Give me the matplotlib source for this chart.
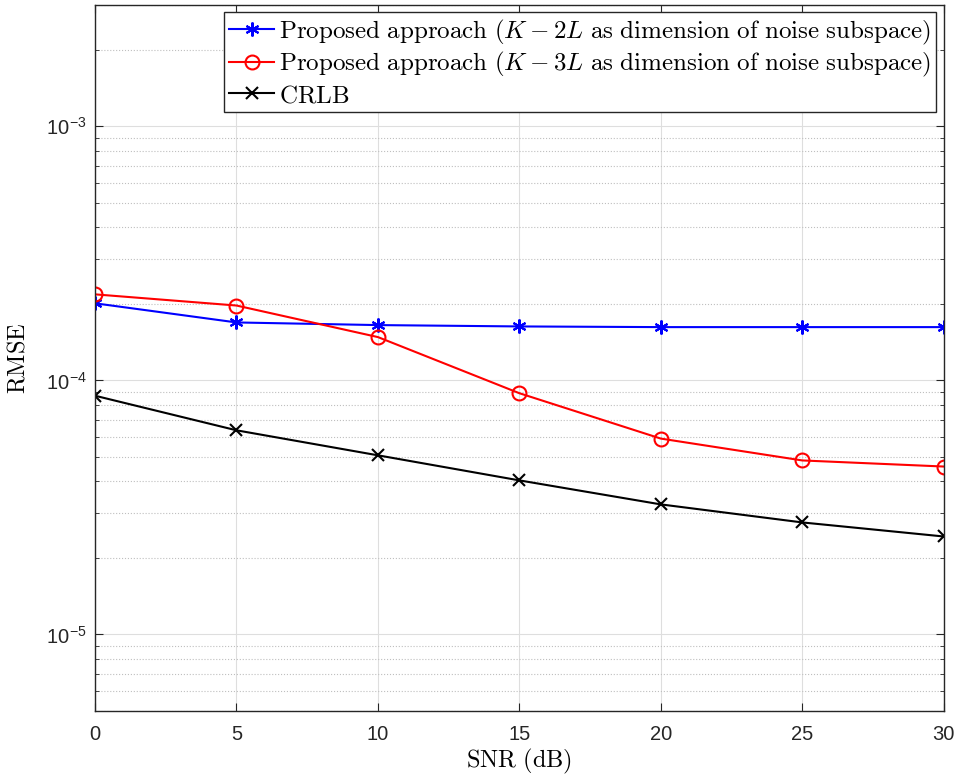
import matplotlib.pyplot as plt
from matplotlib.ticker import FuncFormatter, LogLocator
import numpy as np

# SNR points and RMSE values
snr = [0, 5, 10, 15, 20, 25, 30]
rmse_2L = [2.01e-4, 1.69e-4, 1.65e-4, 1.63e-4, 1.62e-4, 1.62e-4, 1.62e-4]
rmse_3L = [2.18e-4, 1.97e-4, 1.48e-4, 8.9e-5, 5.9e-5, 4.84e-5, 4.58e-5]
crlb = [8.7e-5, 6.36e-5, 5.07e-5, 4.04e-5, 3.25e-5, 2.76e-5, 2.43e-5]

lbl_2L = r'$\mathrm{Proposed\ approach\ (}K-2L\mathrm{\ as\ dimension\ of\ noise\ subspace)}$'
lbl_3L = r'$\mathrm{Proposed\ approach\ (}K-3L\mathrm{\ as\ dimension\ of\ noise\ subspace)}$'
lbl_crlb = r'$\mathrm{CRLB}$'

plt.rcParams['mathtext.fontset'] = 'cm'
plt.rcParams['font.family'] = ['Liberation Sans', 'DejaVu Sans']

axcol = (0.15, 0.15, 0.15)

fig = plt.figure(figsize=(9.57, 7.8), dpi=100)
ax = fig.add_axes([0.0993, 0.0885, 0.9861 - 0.0993, 0.9936 - 0.0885])

ax.semilogy(snr, rmse_2L, color='blue', marker=(6, 2, 0), markersize=10,
            markeredgewidth=1.5, linewidth=1.5, label=lbl_2L)
ax.semilogy(snr, rmse_3L, color='red', marker='o', markersize=10,
            markerfacecolor='none', markeredgewidth=1.5, linewidth=1.5, label=lbl_3L)
ax.semilogy(snr, crlb, color='black', marker='x', markersize=8,
            markeredgewidth=1.5, linewidth=1.5, label=lbl_crlb)

ax.set_xlim(0, 30)
ax.set_ylim(5e-6, 3e-3)
ax.set_xticks([0, 5, 10, 15, 20, 25, 30])
ax.yaxis.set_major_locator(LogLocator(base=10))
ax.yaxis.set_major_formatter(FuncFormatter(
    lambda v, p: r'10$^{\mathregular{%d}}$' % int(round(np.log10(v)))))

ax.grid(True, which='major', color=(0.87, 0.87, 0.87), linestyle='-', linewidth=0.8)
ax.grid(True, which='minor', axis='y', color=(0.75, 0.75, 0.75), linestyle=':', linewidth=0.8)
ax.set_axisbelow(True)

ax.tick_params(which='both', direction='in', top=True, right=True, colors=axcol,
               labelsize=14.5)
ax.tick_params(which='major', length=6)
ax.tick_params(which='minor', length=3)
ax.tick_params(axis='x', pad=10)
ax.tick_params(axis='y', pad=6)
for s in ax.spines.values():
    s.set_color(axcol)
    s.set_linewidth(1.0)

ax.set_xlabel(r'$\mathrm{SNR\ (dB)}$', fontsize=17.5, color='black', labelpad=2)
ax.set_ylabel(r'$\mathrm{RMSE}$', fontsize=17.5, color='black', labelpad=12)

leg = ax.legend(loc='upper right', fontsize=18, fancybox=False, framealpha=1,
                edgecolor=axcol, handlelength=1.8, handletextpad=0.2,
                borderpad=0.2, labelspacing=0.15, borderaxespad=0.3)
leg.get_frame().set_linewidth(1.0)

fig.savefig('out.png', dpi=100)
